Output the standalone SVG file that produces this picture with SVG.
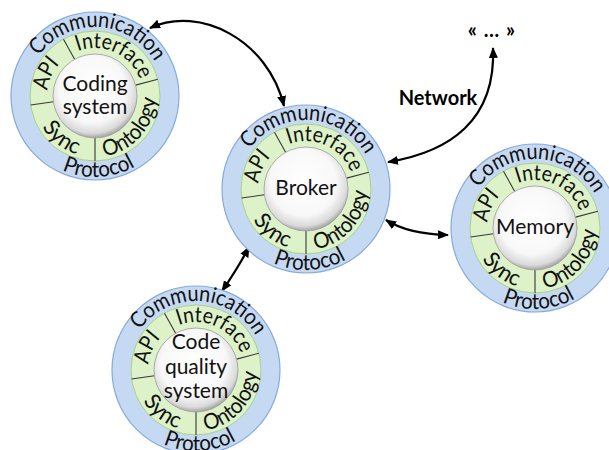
<svg xmlns="http://www.w3.org/2000/svg" xmlns:xlink="http://www.w3.org/1999/xlink" width="609" height="450" viewBox="0 0 609 450">
<style>
.blue{fill:#c6d9f2;stroke:#86aadb;stroke-width:1.2}
.green{fill:#ddf2c8;stroke:#a9d08c;stroke-width:1}
.core{fill:url(#sphere);stroke:#9a9a9a;stroke-width:0.8}
.div{stroke:#3a3a3a;stroke-width:1.1;fill:none}
.ring{font-family:Lato,"Liberation Sans",sans-serif;font-size:22px;fill:#111}
.lbl{font-family:Lato,"Liberation Sans",sans-serif;font-size:21px;fill:#111;text-anchor:middle}
.conn{fill:none;stroke:#000;stroke-width:2.2;marker-start:url(#ah);marker-end:url(#ah)}
.bold{font-family:Lato,"Liberation Sans",sans-serif;font-weight:bold;font-size:20px;fill:#000}
</style>
<defs>
<radialGradient id="sphere" cx="0.47" cy="0.42" r="0.58">
<stop offset="0" stop-color="#ffffff"/>
<stop offset="0.68" stop-color="#f8f8f8"/>
<stop offset="0.9" stop-color="#dadada"/>
<stop offset="1" stop-color="#a4a4a4"/>
</radialGradient>
<marker id="ah" markerUnits="userSpaceOnUse" markerWidth="11" markerHeight="9" refX="10" refY="4.5" orient="auto-start-reverse">
<path d="M0,0 L11,4.5 L0,9 z" fill="#000"/>
</marker>
<path id="cw69" d="M0,69 A69,69 0 1 1 0,-69 A69,69 0 1 1 0,69"/>
<path id="cw48" d="M0,48 A48,48 0 1 1 0,-48 A48,48 0 1 1 0,48"/>
<path id="ccw81" d="M0,-81 A81,81 0 1 0 0,81 A81,81 0 1 0 0,-81"/>
<path id="ccw61" d="M0,-61 A61,61 0 1 0 0,61 A61,61 0 1 0 0,-61"/>
<g id="rings">
<circle class="blue" r="84"/>
<circle class="green" r="65"/>
<path class="div" d="M-20.4,-36.7 L-31.5,-56.8 M40.6,-10.9 L62.8,-16.8 M0,42 L0,65 M-41.6,5.8 L-64.4,9"/>
<circle class="core" r="42"/>
<text class="ring" text-anchor="middle"><textPath xlink:href="#cw69" href="#cw69" startOffset="50.8%" textLength="138" lengthAdjust="spacingAndGlyphs">Communication</textPath></text>
<text class="ring" text-anchor="middle"><textPath xlink:href="#cw48" href="#cw48" startOffset="56.8%" textLength="76" lengthAdjust="spacingAndGlyphs">Interface</textPath></text>
<text class="ring" text-anchor="middle"><textPath xlink:href="#cw48" href="#cw48" startOffset="31.8%" textLength="30" lengthAdjust="spacingAndGlyphs">API</textPath></text>
<text class="ring" text-anchor="middle"><textPath xlink:href="#ccw81" href="#ccw81" startOffset="50.8%" textLength="76" lengthAdjust="spacingAndGlyphs">Protocol</textPath></text>
<text class="ring" text-anchor="middle"><textPath xlink:href="#ccw61" href="#ccw61" startOffset="63.5%" textLength="84" lengthAdjust="spacingAndGlyphs">Ontology</textPath></text>
<text class="ring" text-anchor="middle"><textPath xlink:href="#ccw61" href="#ccw61" startOffset="39.3%" textLength="45" lengthAdjust="spacingAndGlyphs">Sync</textPath></text>
</g>
</defs>
<g id="connectors">
<path class="conn" d="M150,28 C200,5 268,40 284,106"/>
<path class="conn" d="M388,162 C450,152 496,120 493,48"/>
<path class="conn" d="M386,220 Q408,234 448,235"/>
<path class="conn" d="M249,247 Q238,268 222,291"/>
</g>
<g id="coding-system" transform="translate(95,96)">
<use href="#rings" xlink:href="#rings"/>
<text class="lbl" y="-5">Coding</text>
<text class="lbl" y="18">system</text>
</g>
<g id="broker" transform="translate(306,189)">
<use href="#rings" xlink:href="#rings"/>
<text class="lbl" y="6">Broker</text>
</g>
<g id="memory" transform="translate(535,228)">
<use href="#rings" xlink:href="#rings"/>
<text class="lbl" y="6">Memory</text>
</g>
<g id="code-quality-system" transform="translate(196,370)">
<use href="#rings" xlink:href="#rings"/>
<text class="lbl" y="-21">Code</text>
<text class="lbl" y="4">quality</text>
<text class="lbl" y="28">system</text>
</g>
<g id="network">
<text class="bold" x="438" y="105" text-anchor="middle">Network</text>
<text class="bold" x="492" y="37" text-anchor="middle" font-size="18" letter-spacing="1">« … »</text>
</g>
</svg>
